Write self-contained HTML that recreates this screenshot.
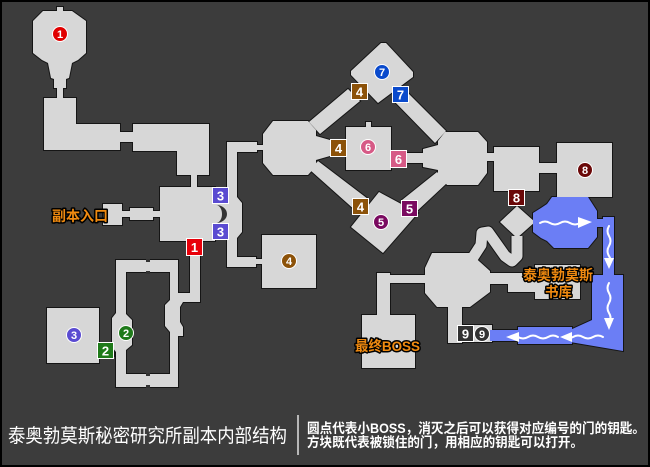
<!DOCTYPE html>
<html><head><meta charset="utf-8"><style>
html,body{margin:0;padding:0;background:#3c3c3c;}
svg{display:block}
</style></head><body>
<svg width="650" height="467" viewBox="0 0 650 467" xmlns="http://www.w3.org/2000/svg">
<rect x="0" y="0" width="650" height="467" fill="#3c3c3c"/>

<!-- outline layer -->
<g fill="#151515" stroke="#151515" stroke-width="2" stroke-linejoin="miter">
<polygon points="43,11 57,11 57,7 63,7 63,11 72,11 86,21 86,53 78,60 72,63 69,78 66,79 66,88 63,88 63,98 57,98 57,88 54,88 54,79 51,78 48,63 42,60 33,53 33,21"/>
<polygon points="44,98 76,98 76,124 120,124 120,132 133,132 133,124 209,124 209,175 197,175 197,187 191,187 191,175 177,175 177,151 133,151 133,142 120,142 120,150 44,150"/>
<polygon points="160,187 215,187 215,203 228,203 228,224 215,224 215,241 160,241"/>
<rect x="103" y="204" width="19" height="21"/><rect x="121" y="211" width="10" height="6"/><rect x="130" y="208" width="23" height="12"/><rect x="152" y="211" width="9" height="6"/>
<polygon points="227,142 257,142 257,145 263,145 263,150 257,150 257,152 237,152 237,197 242,203 242,232 237,238 237,257 256,257 256,259 263,259 263,264 256,264 256,267 227,267"/>
<rect x="262" y="235" width="54" height="53"/>
<path fill-rule="evenodd" d="M116,260 H178 V293 H190 V241 H200 V302 H183 L180,307 V322 L183,327 V336 H178 V387 H116 V352 L112,347 V318 L116,313 Z M126,272 V314 L132,320 V345 L126,350 V374 H170 V332 L165,326 V305 L170,300 V272 Z"/>
<rect x="47" y="308" width="52" height="55"/><rect x="98" y="343" width="16" height="13"/>
<polygon points="273,121 308,121 316,130 316,136 330,140 330,156 316,160 316,166 308,175 273,175 263,163 263,134"/>
<polygon points="309,122 348,89 360,101 320,134"/>
<polygon points="381,43 386,43 413,72 413,77 378,103 351,75 351,71"/>
<polygon points="393,100 405,90 446,131 435,143"/>
<rect x="346" y="127" width="45" height="43"/><rect x="366" y="122" width="5" height="6"/><rect x="329" y="142" width="18" height="12"/><rect x="390" y="153" width="34" height="10"/>
<polygon points="445,132 478,132 487,142 487,173 478,185 447,185 438,174 438,170 423,167 423,149 438,145 438,141"/>
<rect x="486" y="153" width="9" height="8"/><rect x="494" y="147" width="45" height="44"/><rect x="538" y="163" width="20" height="10"/><rect x="557" y="143" width="55" height="54"/>
<polygon points="310,170 318,161 368,199 356,211"/>
<polygon points="379,192 418,213 383,253 351,227"/>
<polygon points="402,200 437,172 447,183 416,212"/>
<polygon points="517,206 535,222 517,238 500,222"/>
<polyline fill="none" stroke-width="13" stroke-linejoin="round" points="470,262 481,245 482,233 488,232 505,256 512,261 517,256 517,236"/>
<polygon points="432,253 470,253 490,271 490,292 470,307 437,307 425,293 425,268"/>
<polygon points="488,273 537,273 537,292 508,292 508,284 488,284"/>
<rect x="535" y="265" width="45" height="34"/>
<rect x="388" y="275" width="38" height="8"/><rect x="377" y="273" width="13" height="44"/><rect x="362" y="315" width="53" height="53"/>
<rect x="448" y="305" width="14" height="38"/><rect x="448" y="325" width="44" height="17"/>
<!-- blue outlines -->
<polygon points="552,197 588,197 597,211 597,237 588,248 554,248 547,241 541,238 533,232 533,213 541,208 547,204"/>
<rect x="596" y="219" width="8" height="8"/><rect x="603" y="217" width="11" height="60"/>
<polygon points="592,275 623,275 623,351 570,342 570,330 592,320"/>
<rect x="518" y="327" width="54" height="17"/><rect x="490" y="330" width="30" height="11"/>
</g>

<!-- floor fill layer -->
<g fill="#d7d7d7" stroke="none">
<polygon points="43,11 57,11 57,7 63,7 63,11 72,11 86,21 86,53 78,60 72,63 69,78 66,79 66,88 63,88 63,98 57,98 57,88 54,88 54,79 51,78 48,63 42,60 33,53 33,21"/>
<polygon points="44,98 76,98 76,124 120,124 120,132 133,132 133,124 209,124 209,175 197,175 197,187 191,187 191,175 177,175 177,151 133,151 133,142 120,142 120,150 44,150"/>
<polygon points="160,187 215,187 215,203 228,203 228,224 215,224 215,241 160,241"/>
<rect x="103" y="204" width="19" height="21"/><rect x="121" y="211" width="10" height="6"/><rect x="130" y="208" width="23" height="12"/><rect x="152" y="211" width="9" height="6"/>
<polygon points="227,142 257,142 257,145 263,145 263,150 257,150 257,152 237,152 237,197 242,203 242,232 237,238 237,257 256,257 256,259 263,259 263,264 256,264 256,267 227,267"/>
<rect x="262" y="235" width="54" height="53"/>
<path fill-rule="evenodd" d="M116,260 H178 V293 H190 V241 H200 V302 H183 L180,307 V322 L183,327 V336 H178 V387 H116 V352 L112,347 V318 L116,313 Z M126,272 V314 L132,320 V345 L126,350 V374 H170 V332 L165,326 V305 L170,300 V272 Z"/>
<rect x="47" y="308" width="52" height="55"/><rect x="98" y="343" width="16" height="13"/>
<polygon points="273,121 308,121 316,130 316,136 330,140 330,156 316,160 316,166 308,175 273,175 263,163 263,134"/>
<polygon points="309,122 348,89 360,101 320,134"/>
<polygon points="381,43 386,43 413,72 413,77 378,103 351,75 351,71"/>
<polygon points="393,100 405,90 446,131 435,143"/>
<rect x="346" y="127" width="45" height="43"/><rect x="366" y="122" width="5" height="6"/><rect x="329" y="142" width="18" height="12"/><rect x="390" y="153" width="34" height="10"/>
<polygon points="445,132 478,132 487,142 487,173 478,185 447,185 438,174 438,170 423,167 423,149 438,145 438,141"/>
<rect x="486" y="153" width="9" height="8"/><rect x="494" y="147" width="45" height="44"/><rect x="538" y="163" width="20" height="10"/><rect x="557" y="143" width="55" height="54"/>
<polygon points="310,170 318,161 368,199 356,211"/>
<polygon points="379,192 418,213 383,253 351,227"/>
<polygon points="402,200 437,172 447,183 416,212"/>
<polygon points="517,206 535,222 517,238 500,222"/>
<polyline fill="none" stroke="#d7d7d7" stroke-width="11" stroke-linejoin="round" points="470,262 481,245 482,233 488,232 505,256 512,261 517,256 517,236"/>
<polygon points="432,253 470,253 490,271 490,292 470,307 437,307 425,293 425,268"/>
<polygon points="488,273 537,273 537,292 508,292 508,284 488,284"/>
<rect x="535" y="265" width="45" height="34"/>
<rect x="388" y="275" width="38" height="8"/><rect x="377" y="273" width="13" height="44"/><rect x="362" y="315" width="53" height="53"/>
<rect x="448" y="305" width="14" height="38"/><rect x="448" y="325" width="44" height="17"/>
</g>

<!-- blue water fill -->
<g fill="#6b7ef5" stroke="none">
<polygon points="552,197 588,197 597,211 597,237 588,248 554,248 547,241 541,238 533,232 533,213 541,208 547,204"/>
<rect x="596" y="219" width="8" height="8"/><rect x="603" y="217" width="11" height="60"/>
<polygon points="592,275 623,275 623,351 570,342 570,330 592,320"/>
<rect x="518" y="327" width="54" height="17"/><rect x="490" y="330" width="30" height="11"/>
</g>

<!-- small door ticks / crescent -->
<g fill="#333">
<path d="M216,205 A11,9 0 0 1 216,223 A6,9 0 0 0 216,205 Z"/>
<rect x="146" y="259" width="4" height="3"/><rect x="146" y="271" width="4" height="3"/>
<rect x="146" y="373" width="4" height="3"/><rect x="146" y="385" width="4" height="3"/>
</g>

<!-- white wavy arrows -->
<g fill="none" stroke="#fff" stroke-width="2" stroke-linecap="round">
<path d="M540,223 q5,-3 10,0 t10,0 t10,0 t10,0"/>
<path d="M609,226 q-3,5 0,10 t0,10 t0,10 t0,6"/>
<path d="M609,283 q-3,5 0,10 t0,10 t0,10 t0,8"/>
<path d="M603,337 q-5,-3 -10,0 t-10,0 t-10,0 t-10,0"/>
<path d="M558,337 q-5,-3 -10,0 t-10,0 t-10,0 t-10,0 t-8,0"/>
</g>
<g fill="#fff">
<polygon points="578,217 592,222 578,228"/>
<polygon points="604,258 609,269 614,258"/>
<polygon points="604,318 609,330 614,318"/>
<polygon points="572,332 560,337 572,342"/>
<polygon points="519,332 506,337 519,342"/>
</g>

<!-- square badges -->
<g stroke="#fff" stroke-width="1">
<rect x="212.5" y="187.5" width="16" height="16" fill="#5a4bd1"/>
<rect x="212.5" y="223.5" width="16" height="16" fill="#5a4bd1"/>
<rect x="186.5" y="238.5" width="16" height="17" fill="#e8000a"/>
<rect x="97.5" y="342.5" width="16" height="16" fill="#1f7a1a"/>
<rect x="351.5" y="83.5" width="16" height="16" fill="#8c5209"/>
<rect x="330.5" y="139.5" width="16" height="17" fill="#8c5209"/>
<rect x="352.5" y="198.5" width="16" height="16" fill="#8c5209"/>
<rect x="392.5" y="86.5" width="16" height="16" fill="#0a4acc"/>
<rect x="390.5" y="150.5" width="16" height="17" fill="#d65a86"/>
<rect x="401.5" y="200.5" width="16" height="16" fill="#7a0a60"/>
<rect x="508.5" y="189.5" width="16" height="16" fill="#6a0808"/>
<rect x="457.5" y="325.5" width="16" height="16" fill="#333"/>
</g>
<g fill="#fff" font-family="Liberation Sans, sans-serif" font-weight="bold" font-size="13" text-anchor="middle">
<text x="220.5" y="200.5">3</text>
<text x="220.5" y="236.5">3</text>
<text x="194.5" y="252">1</text>
<text x="105.5" y="355.5">2</text>
<text x="359.5" y="96.5">4</text>
<text x="338.5" y="153">4</text>
<text x="360.5" y="211.5">4</text>
<text x="400.5" y="99.5">7</text>
<text x="398.5" y="164">6</text>
<text x="409.5" y="213.5">5</text>
<text x="516.5" y="202.5">8</text>
<text x="465.5" y="338.5">9</text>
</g>

<!-- circles -->
<g stroke="#fff" stroke-width="1">
<circle cx="60" cy="34" r="7.5" fill="#e00000"/>
<circle cx="126" cy="333" r="7.5" fill="#1f7a1a"/>
<circle cx="74" cy="335" r="7.5" fill="#5a4bd1"/>
<circle cx="289" cy="261" r="7.5" fill="#8c5209"/>
<circle cx="381" cy="222" r="7.5" fill="#7a0a60"/>
<circle cx="368" cy="147" r="7.5" fill="#d65a86"/>
<circle cx="382" cy="72" r="7.5" fill="#0a4acc"/>
<circle cx="585" cy="170" r="7.5" fill="#6a0808"/>
<circle cx="482" cy="334" r="7.5" fill="#333"/>
</g>
<g fill="#fff" font-family="Liberation Sans, sans-serif" font-weight="bold" font-size="11" text-anchor="middle">
<text x="60" y="38">1</text>
<text x="126" y="337">2</text>
<text x="74" y="339">3</text>
<text x="289" y="265">4</text>
<text x="381" y="226">5</text>
<text x="368" y="151">6</text>
<text x="382" y="76">7</text>
<text x="585" y="174">8</text>
<text x="482" y="338">9</text>
</g>

<!-- orange labels -->
<g fill="#f08a10" stroke="#000" stroke-width="3" paint-order="stroke" stroke-linejoin="round" font-family="Liberation Sans, 'Noto Sans CJK SC', sans-serif" font-weight="bold" font-size="14">
<text x="52" y="221" textLength="56" lengthAdjust="spacingAndGlyphs">副本入口</text>
<text x="523" y="280" textLength="70" lengthAdjust="spacingAndGlyphs">泰奥勃莫斯</text>
<text x="545" y="297" textLength="27" lengthAdjust="spacingAndGlyphs">书库</text>
<text x="355" y="351" textLength="65" lengthAdjust="spacingAndGlyphs">最终BOSS</text>
</g>

<!-- bottom legend -->
<g fill="#fff" font-family="Liberation Sans, 'Noto Sans CJK SC', sans-serif">
<text x="8" y="442" font-size="19" textLength="279" lengthAdjust="spacingAndGlyphs">泰奥勃莫斯秘密研究所副本内部结构</text>
<text x="307" y="433" font-size="13.5" font-weight="bold" textLength="338" lengthAdjust="spacingAndGlyphs">圆点代表小BOSS，消灭之后可以获得对应编号的门的钥匙。</text>
<text x="307" y="447" font-size="13.5" font-weight="bold" textLength="276" lengthAdjust="spacingAndGlyphs">方块既代表被锁住的门，用相应的钥匙可以打开。</text>
</g>
<line x1="298" y1="415" x2="298" y2="455" stroke="#e0e0e0" stroke-width="1.5"/>

<rect x="1" y="1" width="648" height="465" fill="none" stroke="#000" stroke-width="2"/>
</svg>
</body></html>
